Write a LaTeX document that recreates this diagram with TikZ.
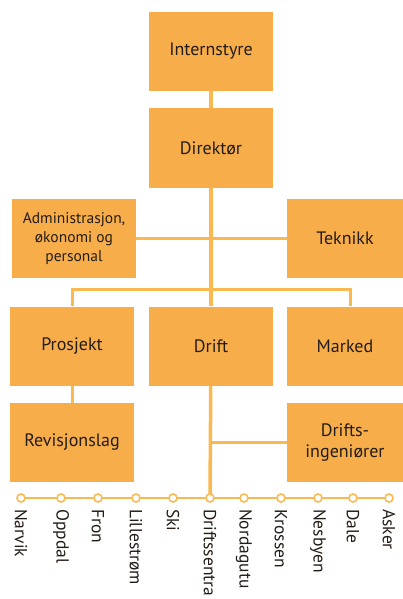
\documentclass[tikz,border=0pt]{standalone}
\usepackage{fontspec}
\setmainfont{PT Sans}
\usepackage{xcolor}
\usepackage{tikz}
\definecolor{orgfill}{RGB}{247,174,74}
\definecolor{orgline}{RGB}{249,185,80}
\definecolor{orgtext}{RGB}{35,28,24}

\tikzset{
  unit/.style={fill=orgfill, draw=none, minimum width=124pt, minimum height=79pt,
    inner sep=2pt, align=center, text=orgtext, font=\fontsize{18}{21}\selectfont},
  sideunit/.style={unit, minimum width=116pt},
  smallunit/.style={unit, font=\fontsize{15.5}{19}\selectfont},
  trunk/.style={draw=orgline, line width=3.5pt},
  link/.style={draw=orgline, line width=3pt},
  rail/.style={draw=orgline, line width=2.5pt},
  station/.style={circle, draw=orgline, fill=white, line width=1.6pt,
    minimum size=8pt, inner sep=0pt},
  place/.style={rotate=-90, anchor=west, inner sep=0pt, text=orgtext,
    font=\fontsize{17.5}{19}\selectfont}
}

\begin{document}
\begin{tikzpicture}[x=1pt, y=-1pt]
    \useasboundingbox (0,0) rectangle (403,599);

    % Boxes, top to bottom
    \node[unit] (styre) at (211,51.5) {Internstyre};
    \node[unit] (direktor) at (211,148) {Direktør};
    \node[smallunit] (admin) at (74,238.5) {Administrasjon,\\økonomi og\\personal};
    \node[sideunit] (teknikk) at (345,238.5) {Teknikk};
    \node[unit] (prosjekt) at (72,346) {Prosjekt};
    \node[unit] (drift) at (211,346) {Drift};
    \node[sideunit] (marked) at (345,346) {Marked};
    \node[unit] (revisjon) at (72,442.5) {Revisjonslag};
    \node[sideunit] (ingenior) at (345,442.5) {Drifts-\\ingeniører};

    % Stations along the bottom line
    \foreach \i/\x in {1/21,2/61,3/98,4/136,5/173,6/210,7/244,8/281,9/318,10/353,11/389}
        \coordinate (st\i) at (\x,498);
    \coordinate (split) at (211,289);
    \coordinate (ingjoin) at (211,442.5);

    % Connectors
    \draw[trunk] (styre) -- (direktor);
    \draw[trunk] (direktor) -- (drift);
    \draw[link] (admin) -- (teknikk);
    \draw[link] (prosjekt.north) |- (split) -| ([xshift=5pt]marked.north);
    \draw[link] (prosjekt) -- (revisjon);
    \draw[trunk] (drift) -- (st6);
    \draw[link] (ingjoin) -- (ingenior);
    \draw[rail] (st1) -- (st11);

    % Station marks and names
    \foreach \i/\name in {1/Narvik,2/Oppdal,3/Fron,4/Lillestrøm,5/Ski,6/Driftssentra,
                          7/Nordagutu,8/Krossen,9/Nesbyen,10/Dale,11/Asker} {
        \node[station] (stop\i) at (st\i) {};
        \node[place] (name\i) at ([yshift=-11pt]st\i) {\name};
    }
\end{tikzpicture}
\end{document}
